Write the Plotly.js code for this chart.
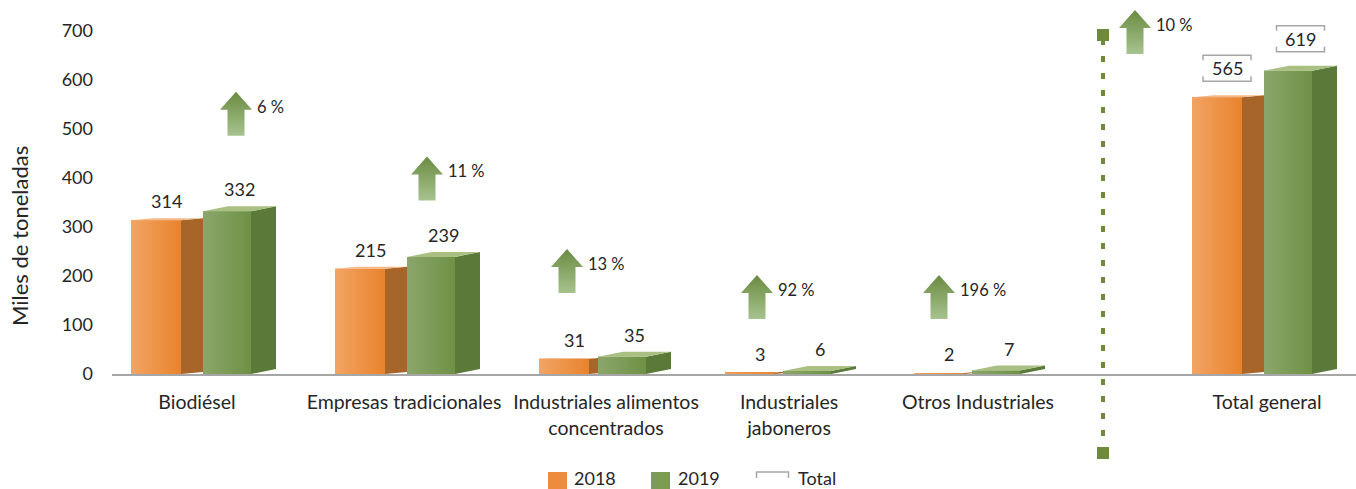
<!DOCTYPE html>
<html><head><meta charset="utf-8">
<script src="https://cdn.plot.ly/plotly-3.0.1.min.js"></script>
<style>html,body{margin:0;padding:0;background:#fff;} #chart{width:1356px;height:489px;}</style>
</head><body><div id="chart"></div>
<script>
// ---------- data ----------
const categories = ['Biodiésel', 'Empresas tradicionales', 'Industriales alimentos concentrados', 'Industriales jaboneros', 'Otros Industriales', 'Total general'];
const tickLabels = ['Biodiésel', 'Empresas tradicionales', 'Industriales alimentos<br>concentrados', 'Industriales<br>jaboneros', 'Otros Industriales', 'Total general'];
const values2018 = [314, 215, 31, 3, 2, 565];
const values2019 = [332, 239, 35, 6, 7, 619];
const changeLabels = ['6 %', '11 %', '13 %', '92 %', '196 %', '10 %'];
const yTickValues = [0, 100, 200, 300, 400, 500, 600, 700];
const legendLabels = ['2018', '2019', 'Total'];
const yTitle = 'Miles de toneladas';

// ---------- layout geometry ----------
const W = 1356, H = 489;
const M = {l: 112, r: 0, t: 0, b: 115};
const plotW = W - M.l - M.r, plotH = H - M.t - M.b;
const PX_PER_X = 200, X_ORIGIN_PX = 198, PX_PER_Y = 0.49;
const xRange = [(M.l - X_ORIGIN_PX) / PX_PER_X, (W - M.r - X_ORIGIN_PX) / PX_PER_X];
const yRange = [0, plotH / PX_PER_Y];
const slotPos = [-0.005, 1.03, 2.04, 2.955, 3.9, 5.345];
const orangeStartPx = [-66, -69, -67, -64, -64, -75];   // 2018 front-face left edge, px from slot
const greenGap = [22, 22, 9, 8, 8, 22];                // px between 2018 and 2019 front faces
const arrowX = [0.19, 1.145, 1.845, 2.795, 3.705, 4.685];
const arrowTopY = [576, 444, 255, 202, 202, 743];
const separatorX = 4.525;
const dx = px => px / PX_PER_X, dy = px => px / PX_PER_Y;
const xp = px => (px - M.l) / plotW, yp = px => (M.t + plotH - px) / plotH;
const FONT = 'Lato, Carlito, "Open Sans", sans-serif';
const TXT = '#262626';
const last = categories.length - 1;

const C = {
  oFront: [[0, '#F2A464'], [1, '#E9832C']], oSide: '#A7652A', oTop: '#F4B787', oSolid: '#EC8C3C',
  gFront: [[0, '#8BA66B'], [1, '#6E9145']], gSide: '#5B7A3A', gTop: '#A9C082', gSolid: '#7C9C56',
  arrow: [[0, '#A7C38E'], [1, '#6A8B41']], sep: '#6F8A3C', bracket: '#A6A6A6'
};

function poly(xs, ys, extra) {
  return Object.assign({
    type: 'scatter', mode: 'lines', x: xs.concat([xs[0]]), y: ys.concat([ys[0]]),
    fill: 'toself', line: {width: 0, color: 'rgba(0,0,0,0)'}, hoverinfo: 'skip', showlegend: false
  }, extra);
}

const greenStartPx = orangeStartPx.map((o, i) => o + 50 + greenGap[i]);
const traces = [
  {type: 'bar', name: '2018', x: slotPos, y: values2018, text: categories, offset: orangeStartPx.map(dx), width: dx(50),
   marker: {color: C.oSolid, line: {width: 0}}, showlegend: false, textposition: 'none',
   hovertemplate: '%{text}<br>2018: %{y}<extra></extra>'},
  {type: 'bar', name: '2019', x: slotPos, y: values2019, text: categories, offset: greenStartPx.map(dx), width: dx(48),
   marker: {color: C.gSolid, line: {width: 0}}, showlegend: false, textposition: 'none',
   hovertemplate: '%{text}<br>2019: %{y}<extra></extra>'}
];

const annotations = [];
const shapes = [];

slotPos.forEach((p, i) => {
  const a = values2018[i], b = values2019[i];
  const X = o => p + dx(o);
  const o0 = orangeStartPx[i], o1 = o0 + 50;
  const g0 = greenStartPx[i];
  const oSideW = g0 - o1;
  const oRise = 2 * oSideW / 22;
  // 2018 box
  traces.push(poly([X(o0), X(o1), X(o1), X(o0)], [0, 0, a, a],
    {fillgradient: {type: 'horizontal', colorscale: C.oFront}}));
  traces.push(poly([X(o1), X(g0), X(g0), X(o1)], [0, dy(oRise), a + dy(oRise), a], {fillcolor: C.oSide}));
  traces.push(poly([X(o0), X(o1), X(g0), X(o0 + oSideW)], [a, a, a + dy(oRise), a + dy(oRise)], {fillcolor: C.oTop}));
  // 2019 box
  traces.push(poly([X(g0), X(g0 + 48), X(g0 + 48), X(g0)], [0, 0, b, b],
    {fillgradient: {type: 'horizontal', colorscale: C.gFront}}));
  traces.push(poly([X(g0 + 48), X(g0 + 73), X(g0 + 73), X(g0 + 48)], [0, dy(5), b + dy(5), b], {fillcolor: C.gSide}));
  traces.push(poly([X(g0), X(g0 + 48), X(g0 + 73), X(g0 + 25)], [b, b, b + dy(5), b + dy(5)], {fillcolor: C.gTop}));

  // arrow
  const ax = arrowX[i], at = arrowTopY[i];
  traces.push(poly(
    [ax, ax + dx(16), ax + dx(8.5), ax + dx(8.5), ax - dx(8.5), ax - dx(8.5), ax - dx(16)],
    [at, at - dy(18), at - dy(18), at - dy(44), at - dy(44), at - dy(18), at - dy(18)],
    {fillgradient: {type: 'vertical', colorscale: C.arrow}}));
  annotations.push({x: ax, y: at, xref: 'x', yref: 'y', text: changeLabels[i], showarrow: false,
    xanchor: 'left', yanchor: 'middle', xshift: 19, yshift: -15, font: {size: 16.5, color: TXT}});

  // value labels
  const isTot = i === last;
  const ox = o0 + 35, gx = g0 + 36.5;
  annotations.push({x: X(ox), y: a, xref: 'x', yref: 'y', text: String(a), showarrow: false,
    yanchor: 'middle', yshift: isTot ? 29 : 19, font: {size: 18, color: TXT}});
  annotations.push({x: X(gx), y: b, xref: 'x', yref: 'y', text: String(b), showarrow: false,
    yanchor: 'middle', yshift: isTot ? 32 : 22, font: {size: 18, color: TXT}});
  if (isTot) {
    [[X(ox), a, 29], [X(gx), b, 32]].forEach(([bx, by, cy]) => {
      const w = 24, h = 13, t = 5;
      shapes.push({type: 'path', xref: 'x', yref: 'y', xsizemode: 'pixel', ysizemode: 'pixel',
        xanchor: bx, yanchor: by,
        path: `M${-w},${cy + h - t} L${-w},${cy + h} L${w},${cy + h} L${w},${cy + h - t} ` +
              `M${-w},${cy - h + t} L${-w},${cy - h} L${w},${cy - h} L${w},${cy - h + t}`,
        line: {color: C.bracket, width: 1.5}});
    });
  }
});

// separator
shapes.push({type: 'line', xref: 'x', yref: 'paper', x0: separatorX, x1: separatorX, y0: yp(453), y1: yp(35),
  line: {color: C.sep, width: 4, dash: '6px,11px'}});
[35, 453].forEach(py => shapes.push({type: 'rect', xref: 'x', yref: 'paper', xsizemode: 'pixel', ysizemode: 'pixel',
  xanchor: separatorX, yanchor: yp(py), x0: -6, x1: 6, y0: -6, y1: 6, fillcolor: C.sep, line: {width: 0}}));

// legend (manual)
shapes.push({type: 'rect', xref: 'paper', yref: 'paper', x0: xp(548), x1: xp(567), y0: yp(490), y1: yp(472),
  fillcolor: C.oSolid, line: {width: 0}});
shapes.push({type: 'rect', xref: 'paper', yref: 'paper', x0: xp(651), x1: xp(670), y0: yp(490), y1: yp(472),
  fillcolor: C.gSolid, line: {width: 0}});
shapes.push({type: 'path', xref: 'paper', yref: 'paper', xsizemode: 'pixel', ysizemode: 'pixel',
  xanchor: xp(772.5), yanchor: yp(472), path: 'M-16,-6 L-16,0 L16,0 L16,-6',
  line: {color: C.bracket, width: 1.5}});
[[572, legendLabels[0]], [676, legendLabels[1]], [796, legendLabels[2]]].forEach(([px, t]) =>
  annotations.push({xref: 'paper', yref: 'paper', x: xp(px), y: yp(478), text: t, showarrow: false,
    xanchor: 'left', yanchor: 'middle', font: {size: 18, color: TXT}}));

// y-axis title (rotated text, centred as in the reference)
annotations.push({xref: 'paper', yref: 'paper', x: xp(19), y: yp(236), text: yTitle, textangle: -90,
  showarrow: false, xanchor: 'center', yanchor: 'middle', font: {size: 22, color: TXT}});

const layout = {
  width: W, height: H, margin: M, paper_bgcolor: '#fff', plot_bgcolor: '#fff',
  font: {family: FONT, color: TXT, size: 17},
  barmode: 'overlay', showlegend: false, hovermode: 'closest',
  xaxis: {range: xRange, tickvals: slotPos, ticktext: tickLabels, showgrid: false, zeroline: false,
    showline: true, linecolor: '#A6A6A6', linewidth: 2, ticks: '', ticklabelstandoff: 10,
    tickfont: {size: 19.5, color: TXT}, fixedrange: true},
  yaxis: {range: yRange, tickvals: yTickValues, showgrid: false, zeroline: false, showline: false,
    ticks: '', ticklabelstandoff: 18, tickfont: {size: 18, color: TXT}, fixedrange: true},
  annotations: annotations, shapes: shapes
};

Plotly.newPlot('chart', traces, layout, {displayModeBar: false});
</script>
</body></html>
